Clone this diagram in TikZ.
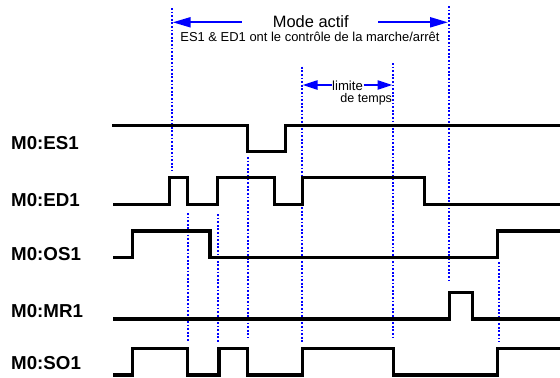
\documentclass[tikz,border=0pt]{standalone}
\usepackage{fontspec}
\setmainfont{Liberation Sans}
\usetikzlibrary{arrows.meta}
\tikzset{
  sig/.style={line width=3.2bp, black, line join=miter},
  guide/.style={blue, line width=2bp, dash pattern=on 1.8bp off 1.8bp},
  bigarrow/.style={blue, line width=2.2bp, -{Triangle[length=18bp,width=10bp]}},
  smallarrow/.style={blue, line width=2.2bp, -{Triangle[length=15bp,width=9bp]}},
  lbl/.style={inner sep=0pt, anchor=base west, font=\fontsize{18.8}{20}\selectfont\bfseries},
  txt/.style={inner sep=0pt, anchor=base},
}
\begin{document}
\begin{tikzpicture}[x=1bp,y=-1bp]
\useasboundingbox (0,0) rectangle (560,377);
% guides
\draw[guide] (171.7,8) -- (171.7,171);
\draw[guide] (188.3,213) -- (188.3,342);
\draw[guide] (218,214) -- (218,343);
\draw[guide] (248,157) -- (248,338);
\draw[guide] (301.7,66.7) -- (301.7,343);
\draw[guide] (393.3,63) -- (393.3,340);
\draw[guide] (449,6) -- (449,283);
\draw[guide] (499,262) -- (499,342);
% texts
\node[txt, font=\fontsize{16.5}{18}\selectfont] (mode) at (310.8,27) {Mode actif};
\node[txt, font=\fontsize{13}{15}\selectfont] (ctrl) at (310,41.7) {ES1 \& ED1 ont le contrôle de la marche/arrêt};
\node[txt, font=\fontsize{13.2}{15}\selectfont] (lim) at (347.5,90) {limite};
\node[txt, font=\fontsize{12.6}{15}\selectfont] (temps) at (366.2,102.7) {de temps};
% arrows
\coordinate (mL) at (241.7,22.3);
\coordinate (mLt) at (172.7,22.3);
\coordinate (mR) at (378,22.3);
\coordinate (mRt) at (448,22.3);
\draw[bigarrow] (mL) -- (mLt);
\draw[bigarrow] (mR) -- (mRt);
\coordinate (lL) at (331.7,85);
\coordinate (lLt) at (302.5,85);
\coordinate (lR) at (363.5,85);
\coordinate (lRt) at (392.5,85);
\draw[smallarrow] (lL) -- (lLt);
\draw[smallarrow] (lR) -- (lRt);
% labels
\node[lbl] (les1) at (11,149.3) {M0:ES1};
\node[lbl] (led1) at (11,206.7) {M0:ED1};
\node[lbl] (los1) at (11,260.7) {M0:OS1};
\node[lbl] (lmr1) at (11,317.3) {M0:MR1};
\node[lbl] (lso1) at (11,369.3) {M0:SO1};
% signals
\draw[sig] (112,125.5) -| (247.7,151.5) -| (285.7,125.5) -- (560,125.5);
\draw[sig] (113,204.7) -| (169.3,177.3) -| (187.7,204.7) -| (217.3,177.3) -| (274.3,204.7) -| (302.7,177.3) -| (424.3,204.7) -- (560,204.7);
\draw[sig] (113,257.3) -| (132.3,231) -| (210,257.5) -| (497.7,231) -- (560,231);
\draw[sig] (113,319) -| (449.7,292.3) -| (472.7,319) -- (560,319);
\draw[sig] (113,375) -| (132.3,348.3) -| (187.3,375) -| (219,348.3) -| (247.7,375) -| (302.7,348.3) -| (393.3,375) -| (497.7,348.3) -- (560,348.3);
\end{tikzpicture}
\end{document}
